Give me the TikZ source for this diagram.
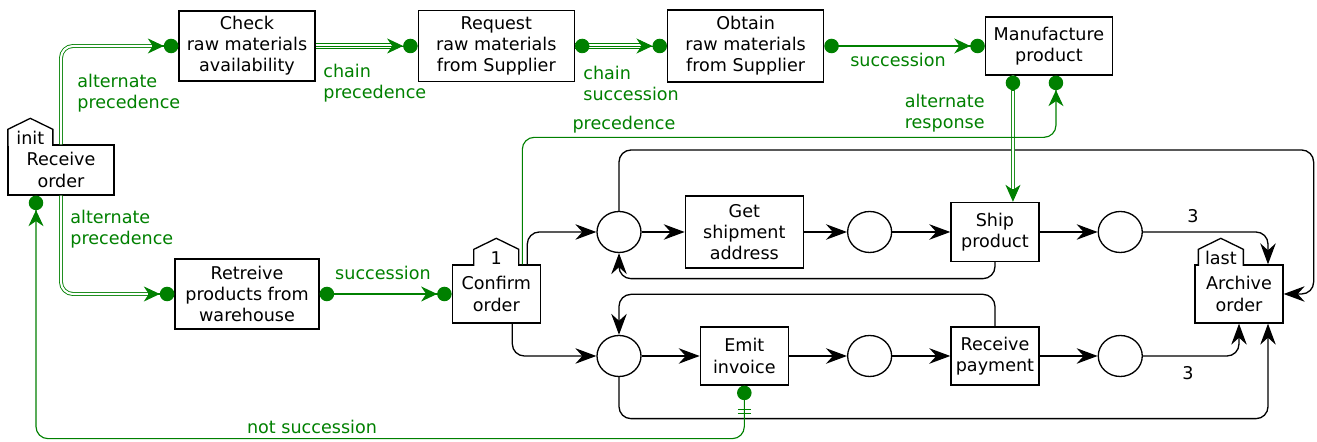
\documentclass[tikz,border=0pt]{standalone}
\usepackage{fontspec}
\setmainfont{DejaVu Sans}
\usetikzlibrary{positioning}
\usetikzlibrary{shapes.geometric}
\usetikzlibrary{arrows.meta}
\usetikzlibrary{calc}
\definecolor{declgreen}{RGB}{0,128,0}

% small house-shaped tag on top of a task
\newcommand{\taskhat}[2]{%
  \draw[fill=white, line width=0.75pt] ($(#1)+(-0.45,-0.03)$) -- ++(0,0.33) -- ++(0.45,0.22) -- ++(0.45,-0.22) -- ++(0,-0.33);
  \node[anchor=base, inner sep=0pt] at (#1) {#2};}

\begin{document}
\begin{tikzpicture}[
  font=\fontsize{10}{12}\selectfont,
  task/.style={draw, line width=0.75pt, align=center, inner sep=2pt, minimum width=1.76cm, minimum height=1.16cm},
  place/.style={draw, ellipse, line width=0.75pt, minimum width=0.88cm, minimum height=0.82cm, inner sep=0pt},
  arrow/.style={-{Stealth[length=0.42cm,width=0.31cm,inset=0.14cm]}, line width=0.75pt, rounded corners=0.24cm},
  decl/.style={draw=declgreen, line width=0.65pt, rounded corners=0.24cm},
  altdecl/.style={decl, line width=0.5pt, double=white, double distance=1.2pt},
  chaindecl/.style={decl, line width=0.5pt, double=white, double distance=2.4pt},
  tgt/.style={-{Stealth[length=0.32cm,width=0.3cm,inset=0.1cm]Circle[length=0.29cm]}},
  resp/.style={-{Stealth[length=0.34cm,width=0.3cm,inset=0.1cm]}},
  src/.style={{Circle[length=0.29cm]}-},
  srctgt/.style={{Circle[length=0.29cm]}-{Stealth[length=0.32cm,width=0.3cm,inset=0.1cm]Circle[length=0.29cm]}},
  lbl/.style={text=declgreen, align=left, inner sep=0pt}
]
\useasboundingbox (0,0) rectangle (26.34,8.84);

% Tasks (upper part)
\node[task, minimum width=2.12cm, minimum height=1.0cm] (recv) at (1.22,5.44) {Receive\\order};
\node[task, minimum width=2.72cm, minimum height=1.4cm] (check) at (4.94,7.92) {Check\\raw materials\\availability};
\node[task, minimum width=3.12cm, minimum height=1.42cm, right=2.04cm of check] (request) {Request\\raw materials\\from Supplier};
\node[task, minimum width=3.12cm, minimum height=1.44cm, right=1.84cm of request] (obtain) {Obtain\\raw materials\\from Supplier};
\node[task, minimum width=2.54cm, right=3.21cm of obtain] (manuf) {Manufacture\\product};
\node[task, minimum width=2.88cm, minimum height=1.4cm] (retr) at (4.94,2.96) {Retreive\\products from\\warehouse};
\node[task, right=2.64cm of retr] (confirm) {Confirm\\order};

% Shipment branch
\node[place] (c1) at (12.38,4.2) {};
\node[task, minimum width=2.36cm, minimum height=1.44cm, right=0.86cm of c1] (get) {Get\\shipment\\address};
\node[place, right=0.86cm of get] (c2) {};
\node[task, minimum height=1.18cm, right=1.16cm of c2] (ship) {Ship\\product};
\node[place, right=1.16cm of ship] (c3) {};

% Payment branch
\node[place] (c4) at (12.38,1.72) {};
\node[task, right=1.16cm of c4] (emit) {Emit\\invoice};
\node[place, right=1.16cm of emit] (c5) {};
\node[task, right=1.16cm of c5] (recpay) {Receive\\payment};
\node[place, right=1.16cm of recpay] (c6) {};

\node[task] (archive) at (24.78,2.96) {Archive\\order};

% Tags
\coordinate (inithat) at ($(recv.north west)+(0.46,0)$);
\coordinate (onehat) at (confirm.north);
\coordinate (lasthat) at ($(archive.north west)+(0.53,0)$);
\taskhat{inithat}{init}
\taskhat{onehat}{1}
\taskhat{lasthat}{last}

% Control flow
\draw[arrow] ([xshift=6.2mm]confirm.north) |- (c1.west);
\draw[arrow] ([xshift=3.2mm]confirm.south) |- (c4.west);
\draw[arrow] (c1) -- (get);
\draw[arrow] (get) -- (c2);
\draw[arrow] (c2) -- (ship);
\draw[arrow] (ship) -- (c3);
\draw[arrow] (c3.east) -| ([xshift=5.8mm]archive.north);
\draw[arrow] (ship.south) -- ++(0,-0.33) -| (c1.south);
\draw[arrow] (c1.north) |- ($(archive.east)+(0.6,2.88)$) |- (archive.east);
\draw[arrow] (c4) -- (emit);
\draw[arrow] (emit) -- (c5);
\draw[arrow] (c5) -- (recpay);
\draw[arrow] (recpay) -- (c6);
\draw[arrow] (c6.east) -| (archive.south);
\draw[arrow] (recpay.north) -- ++(0,0.64) -| (c4.north);
\draw[arrow] (c4.south) -- ++(0,-0.83) -| ([xshift=5.8mm]archive.south);
\node (three1) at (23.86,4.52) {3};
\node (three2) at (23.76,1.38) {3};

% Constraints (double/triple lines get their tips drawn on a short single stub)
\draw[altdecl, shorten >=5mm] (recv.north) |- (check.west);
\draw[decl, tgt] ([xshift=-5.3mm]check.west) -- (check.west);
\draw[altdecl, shorten >=5mm] (recv.south) |- (retr.west);
\draw[decl, tgt] ([xshift=-5.3mm]retr.west) -- (retr.west);
\draw[chaindecl, shorten >=5mm] (check) -- (request);
\draw[decl, line width=0.5pt, tgt] (check) -- (request);
\draw[chaindecl, shorten >=5mm] (request) -- (obtain);
\draw[decl, line width=0.5pt, srctgt] (request) -- (obtain);
\draw[decl, srctgt] (obtain) -- (manuf);
\draw[altdecl, shorten >=2.3mm] ([xshift=-7.2mm]manuf.south) -- ([xshift=3.6mm]ship.north);
\draw[decl, src] ([xshift=-7.2mm]manuf.south) -- ++(0,-0.3);
\draw[decl, resp] ([xshift=3.6mm,yshift=2.5mm]ship.north) -- ([xshift=3.6mm]ship.north);
\draw[decl, tgt] ([xshift=5.2mm]confirm.north) -- ++(0,2.54) -| ([xshift=1.4mm]manuf.south);
\draw[decl, srctgt] (retr) -- (confirm);
\draw[decl, srctgt] (emit.south) -- ++(0,-1.06) -| ([xshift=-5mm]recv.south);
\draw[declgreen, line width=0.6pt] ([xshift=-1.3mm,yshift=-4.8mm]emit.south) -- ++(0.26,0);
\draw[declgreen, line width=0.6pt] ([xshift=-1.3mm,yshift=-5.6mm]emit.south) -- ++(0.26,0);

% Constraint labels
\node[lbl, anchor=west] at (1.54,6.97) {alternate\\precedence};
\node[lbl, anchor=west] at (1.40,4.26) {alternate\\precedence};
\node[lbl, anchor=west] at (6.46,7.17) {chain\\precedence};
\node[lbl, anchor=west] at (11.66,7.17) {chain\\succession};
\node[lbl] at (17.96,7.64) {succession};
\node[lbl, anchor=east, align=right] at (19.70,6.58) {alternate\\response};
\node[lbl] at (12.48,6.34) {precedence};
\node[lbl] at (7.66,3.38) {succession};
\node[lbl] at (6.24,0.30) {not succession};

\end{tikzpicture}
\end{document}
